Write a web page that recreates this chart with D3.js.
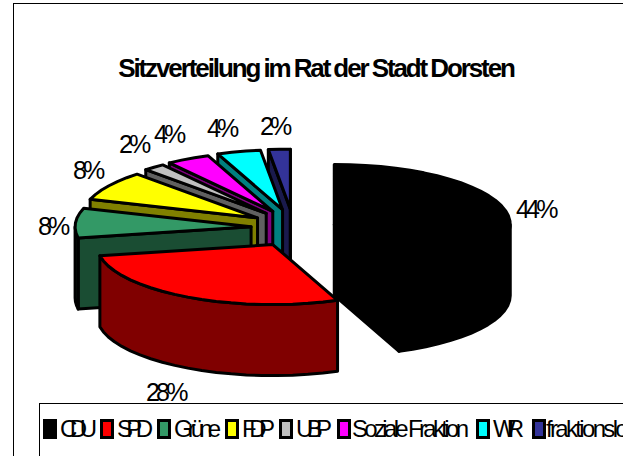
<!DOCTYPE html>
<html lang="en">
<head>
    <meta charset="UTF-8">
    <title>Sitzverteilung im Rat der Stadt Dorsten</title>
    <script src="https://d3js.org/d3.v7.min.js"></script>
    <style>
        html, body { margin: 0; padding: 0; background: #fff; overflow: hidden; }
        text { font-family: "Liberation Sans", Arial, sans-serif; fill: #000; }
    </style>
</head>
<body>
    <div id="chart-container"></div>

    <script>
        const parties = ["CDU", "SPD", "Grüne", "FDP", "UBP", "Soziale Fraktion", "WIR", "fraktionslos"];
        const shares = [44, 28, 8, 8, 2, 4, 4, 2];
        const topColors = ["#000000", "#ff0000", "#339966", "#ffff00", "#c0c0c0", "#ff00ff", "#00ffff", "#333399"];
        const sideColors = ["#000000", "#800000", "#1a4d33", "#808000", "#606060", "#800080", "#008080", "#1a1a4d"];

        const width = 623;
        const height = 456;
        const rx = 176, ry = 60, depth = 71;
        const cx = 293, cy = 228;
        const explode = 42, explodeY = 0.45;

        const svg = d3.select("#chart-container").append("svg")
            .attr("width", width)
            .attr("height", height);

        // outer chart frame
        svg.append("rect")
            .attr("x", 13.5).attr("y", 3.5)
            .attr("width", 640).attr("height", 500)
            .attr("fill", "#fff").attr("stroke", "#000");

        svg.append("text")
            .attr("x", 316).attr("y", 77)
            .attr("text-anchor", "middle")
            .attr("font-size", 26)
            .attr("font-weight", "bold")
            .attr("letter-spacing", -2.1)
            .attr("word-spacing", -1)
            .text("Sitzverteilung im Rat der Stadt Dorsten");

        const arcs = d3.pie().sort(null)(shares).map((d, i) => {
            const mid = (d.startAngle + d.endAngle) / 2;
            return {
                i, a0: d.startAngle, a1: d.endAngle, mid,
                x: cx + explode * Math.sin(mid),
                y: cy - explode * explodeY * Math.cos(mid)
            };
        });

        const line = d3.line();
        const rim = (s, a) => [s.x + rx * Math.sin(a), s.y - ry * Math.cos(a)];

        // samples on the rim between two angles
        function rimPoints(s, a0, a1) {
            const n = Math.max(2, Math.ceil((a1 - a0) / 0.09));
            return d3.range(n + 1).map(k => rim(s, a0 + (a1 - a0) * k / n));
        }

        const down = p => [p[0], p[1] + depth];

        function wall(g, pts, fill) {
            g.append("path")
                .attr("d", line(pts) + "Z")
                .attr("fill", fill)
                .attr("stroke", "#000")
                .attr("stroke-width", 3)
                .attr("stroke-linejoin", "round");
        }

        // back to front: small slices first, SPD and CDU last
        const order = [7, 6, 5, 4, 3, 2, 1, 0];
        const slices = svg.append("g");
        order.forEach(i => {
            const s = arcs[i];
            const g = slices.append("g");
            const apex = [s.x, s.y];
            // start wall faces the viewer on the left half, end wall on the right half
            if (Math.sin(s.a0) < 0) {
                const p = rim(s, s.a0);
                wall(g, [apex, p, down(p), down(apex)], sideColors[i]);
            }
            if (Math.sin(s.a1) > 0) {
                const p = rim(s, s.a1);
                wall(g, [apex, p, down(p), down(apex)], sideColors[i]);
            }
            // outer wall, only the part between 90 and 270 degrees
            const from = Math.max(s.a0, Math.PI / 2);
            const to = Math.min(s.a1, 3 * Math.PI / 2);
            if (to > from) {
                const pts = rimPoints(s, from, to);
                wall(g, pts.concat(pts.map(down).reverse()), sideColors[i]);
            }
            wall(g, [apex].concat(rimPoints(s, s.a0, s.a1)), topColors[i]);
        });

        // data labels
        const labelX = d3.scaleOrdinal().domain(parties).range([516, 146, 38, 73, 119, 154, 207, 260]);
        const labelY = d3.scaleOrdinal().domain(parties).range([218, 401, 235, 179, 153, 143, 137, 135]);
        svg.append("g").selectAll("text")
            .data(parties)
            .join("text")
            .attr("x", d => labelX(d))
            .attr("y", d => labelY(d))
            .attr("font-size", 25)
            .attr("letter-spacing", -3.8)
            .text((d, i) => shares[i] + "%");

        // legend
        const legend = svg.append("g");
        legend.append("rect")
            .attr("x", 39.5).attr("y", 403.5)
            .attr("width", 640).attr("height", 100)
            .attr("fill", "#fff").attr("stroke", "#000");

        const swatchX = d3.scaleOrdinal().domain(parties).range([43, 100, 157, 225, 279, 337, 476, 532]);
        const textX = d3.scaleOrdinal().domain(parties).range([60, 117, 174, 242, 296, 352, 493, 546]);
        const textW = d3.scaleOrdinal().domain(parties).range([37, 36, 47, 33, 36, 117, 31, 92]);
        const legendItems = legend.selectAll("g").data(parties).join("g")
            .attr("transform", "translate(0,419)");
        legendItems.append("rect")
            .attr("x", d => swatchX(d) + 1.5).attr("y", 1.5)
            .attr("width", 11).attr("height", 17)
            .attr("fill", (d, i) => topColors[i])
            .attr("stroke", "#000")
            .attr("stroke-width", 3);
        legendItems.append("text")
            .attr("x", d => textX(d)).attr("y", 18)
            .attr("font-size", 24)
            .attr("textLength", d => textW(d))
            .attr("lengthAdjust", "spacing")
            .text(d => d);
    </script>
</body>
</html>
